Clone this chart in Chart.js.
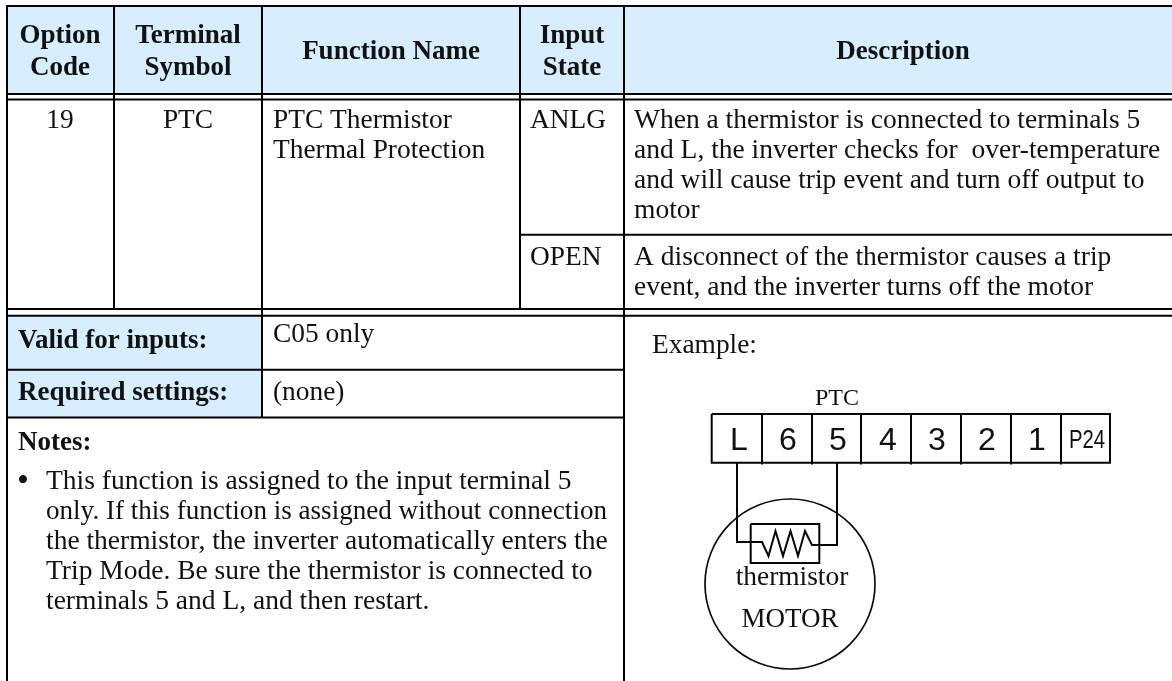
<!DOCTYPE html>
<html>
<head>
<meta charset="utf-8">
<title>PTC Thermistor Thermal Protection</title>
<script src="https://cdn.jsdelivr.net/npm/chart.js@4"></script>
<style>
html,body{margin:0;padding:0;background:#fff;overflow:hidden}
canvas{display:block}
</style>
</head>
<body>
<canvas id="c" width="1172" height="681"></canvas>
<script>
// ---- content ----
const headerOption = ["Option", "Code"];
const headerTerminal = ["Terminal", "Symbol"];
const headerFunction = ["Function Name"];
const headerInput = ["Input", "State"];
const headerDescription = ["Description"];
const optionCode = ["19"];
const terminalSymbol = ["PTC"];
const functionName = ["PTC Thermistor", "Thermal Protection"];
const inputStates = ["ANLG", "OPEN"];
const descriptionAnlg = [
  "When a thermistor is connected to terminals 5",
  "and L, the inverter checks for  over-temperature",
  "and will cause trip event and turn off output to",
  "motor"
];
const descriptionOpen = [
  "A disconnect of the thermistor causes a trip",
  "event, and the inverter turns off the motor"
];
const rowLabels = ["Valid for inputs:", "Required settings:"];
const rowValues = ["C05 only", "(none)"];
const notesTitle = ["Notes:"];
const bullet = ["\u2022"];
const notesLines = [
  "This function is assigned to the input terminal 5",
  "only. If this function is assigned without connection",
  "the thermistor, the inverter automatically enters the",
  "Trip Mode. Be sure the thermistor is connected to",
  "terminals 5 and L, and then restart."
];
const exampleLabel = ["Example:"];
const wiringLabel = ["PTC"];
const terminalLabels = ["L", "6", "5", "4", "3", "2", "1"];
const lastTerminalLabel = "P24";
const thermistorLabel = ["thermistor"];
const motorLabel = ["MOTOR"];

// ---- table frame, in the 1172 x 681 axis units ----
const colLeft = 7, colA = 114, colB = 262, colC = 520, colD = 624, colRight = 1172;
const rowTop = 6, rowHead1 = 94, rowHead2 = 99.5, rowSplit = 234.7, rowMid1 = 309, rowMid2 = 315.7, rowValid = 369.7, rowReq = 417.5, rowBottom = 681;

const pts = (...a) => a.map(p => ({x: p[0], y: p[1]}));
const frameLines = [
  pts([colLeft, rowTop-1], [colLeft, rowBottom]),
  pts([colA, rowTop], [colA, rowMid1]),
  pts([colB, rowTop], [colB, rowReq]),
  pts([colC, rowTop], [colC, rowMid1]),
  pts([colD, rowTop], [colD, rowBottom]),
  pts([colLeft, rowTop], [colRight, rowTop]),
  pts([colLeft, rowHead1], [colRight, rowHead1]),
  pts([colLeft, rowHead2], [colRight, rowHead2]),
  pts([colC, rowSplit], [colRight, rowSplit]),
  pts([colLeft, rowMid1], [colRight, rowMid1]),
  pts([colLeft, rowMid2], [colRight, rowMid2]),
  pts([colLeft, rowValid], [colD, rowValid]),
  pts([colLeft, rowReq], [colD, rowReq])
];
const blueFills = [
  pts([colLeft, rowTop], [colRight, rowTop], [colRight, rowHead1], [colLeft, rowHead1]),
  pts([colLeft, rowMid2], [colB, rowMid2], [colB, rowReq], [colLeft, rowReq])
];

// ---- wiring diagram ----
const boxLeft = 711.7, boxRight = 1110, boxTop = 414, boxBottom = 462.7, boxTick = 464.5;
const boxDividers = [762, 812, 861, 911, 961, 1011, 1061];
const diagramLines = [
  pts([boxLeft, boxTop], [boxRight, boxTop], [boxRight, boxBottom], [boxLeft, boxBottom], [boxLeft, boxTop]),
  ...boxDividers.map(x => pts([x, boxTop], [x, boxTick])),
  pts([750.7, 524], [819.3, 524], [819.3, 563], [750.7, 563], [750.7, 524]),
  pts([737, 462], [737, 542], [762, 542], [768.5, 556], [775.5, 531], [783, 556], [790.5, 531], [798, 556], [805, 531], [812, 545], [837, 545], [837, 462])
];
const motorCircle = pts([790, 584]);

const BLACK = '#000', BLUE = '#d6eeff', INK = '#111';
const SERIF = '"Liberation Serif", "Times New Roman", serif';
const SANS = '"Liberation Sans", Arial, sans-serif';

const datasets = [
  ...blueFills.map(d => ({data: d, showLine: true, fill: 'shape', backgroundColor: BLUE, borderWidth: 0, pointRadius: 0, order: 5})),
  ...frameLines.map(d => ({data: d, showLine: true, borderColor: BLACK, borderWidth: 2, pointRadius: 0, tension: 0, order: 3})),
  ...diagramLines.map(d => ({data: d, showLine: true, borderColor: '#050505', borderWidth: 2, pointRadius: 0, tension: 0, order: 2})),
  {data: motorCircle, pointRadius: 85, pointBorderWidth: 1.7, pointBorderColor: '#0a0a0a', pointBackgroundColor: 'rgba(0,0,0,0)', order: 4}
];

// ---- text blocks: lines, x, first baseline, size, weight, align ----
const LH = 30;
const textBlocks = [
  {lines: headerOption, x: 60, y: 42.7, size: 27, bold: true, align: 'center', lh: 32.3},
  {lines: headerTerminal, x: 188, y: 42.7, size: 27, bold: true, align: 'center', lh: 32.3},
  {lines: headerFunction, x: 391, y: 59, size: 27, bold: true, align: 'center'},
  {lines: headerInput, x: 572, y: 42.7, size: 27, bold: true, align: 'center', lh: 32.3},
  {lines: headerDescription, x: 903, y: 59, size: 27, bold: true, align: 'center'},
  {lines: optionCode, x: 60, y: 128, size: 27.4, align: 'center'},
  {lines: terminalSymbol, x: 188, y: 128, size: 27.4, align: 'center'},
  {lines: functionName, x: 273, y: 128, size: 27.4, align: 'left'},
  {lines: [inputStates[0]], x: 530, y: 128, size: 27.4, align: 'left'},
  {lines: [inputStates[1]], x: 530, y: 265, size: 27.4, align: 'left'},
  {lines: descriptionAnlg, x: 634, y: 128, size: 27.5, align: 'left'},
  {lines: descriptionOpen, x: 634, y: 265, size: 27.5, align: 'left'},
  {lines: [rowLabels[0]], x: 18, y: 347.7, size: 27, bold: true, align: 'left'},
  {lines: [rowLabels[1]], x: 18, y: 400, size: 27, bold: true, align: 'left'},
  {lines: [rowValues[0]], x: 273, y: 341.7, size: 27.4, align: 'left'},
  {lines: [rowValues[1]], x: 273, y: 400, size: 27.4, align: 'left'},
  {lines: notesTitle, x: 18, y: 450, size: 27, bold: true, align: 'left'},
  {lines: bullet, x: 17, y: 491, size: 34, align: 'left'},
  {lines: notesLines, x: 46, y: 489, size: 27.5, align: 'left', fit: {1: 561}},
  {lines: exampleLabel, x: 652, y: 353, size: 27.4, align: 'left'},
  {lines: wiringLabel, x: 837, y: 405, size: 24, align: 'center'},
  {lines: thermistorLabel, x: 792, y: 585, size: 27.4, align: 'center'},
  {lines: motorLabel, x: 790, y: 627, size: 27, align: 'center'}
];
const terminalCenters = [739, 788, 838, 888, 937, 987, 1037];
const lastTerminalCenter = 1087;

const textPlugin = {
  id: 'tableText',
  afterDatasetsDraw(chart) {
    const {ctx, scales: {x: sx, y: sy}} = chart;
    ctx.save();
    ctx.textBaseline = 'alphabetic';
    ctx.fillStyle = INK;
    for (const b of textBlocks) {
      ctx.font = (b.bold ? 'bold ' : '') + b.size + 'px ' + SERIF;
      ctx.textAlign = b.align;
      b.lines.forEach((t, i) => {
        const px = sx.getPixelForValue(b.x), py = sy.getPixelForValue(b.y + i * (b.lh || LH));
        if (b.fit && b.fit[i]) ctx.fillText(t, px, py, b.fit[i]);
        else ctx.fillText(t, px, py);
      });
    }
    ctx.font = '32px ' + SANS;
    ctx.textAlign = 'center';
    terminalLabels.forEach((t, i) => ctx.fillText(t, sx.getPixelForValue(terminalCenters[i]), sy.getPixelForValue(450)));
    ctx.save();
    ctx.translate(sx.getPixelForValue(lastTerminalCenter), sy.getPixelForValue(448));
    ctx.scale(0.78, 1);
    ctx.font = '26px ' + SANS;
    ctx.fillText(lastTerminalLabel, 0, 0);
    ctx.restore();
    ctx.restore();
  }
};

new Chart(document.getElementById('c'), {
  type: 'scatter',
  data: {datasets},
  plugins: [textPlugin],
  options: {
    responsive: false,
    animation: false,
    events: [],
    layout: {padding: 0, autoPadding: false},
    plugins: {legend: {display: false}, tooltip: {enabled: false}, title: {display: false}},
    scales: {
      x: {type: 'linear', min: 0, max: 1172, display: false},
      y: {type: 'linear', min: 0, max: 681, reverse: true, display: false}
    }
  }
});
</script>
</body>
</html>
